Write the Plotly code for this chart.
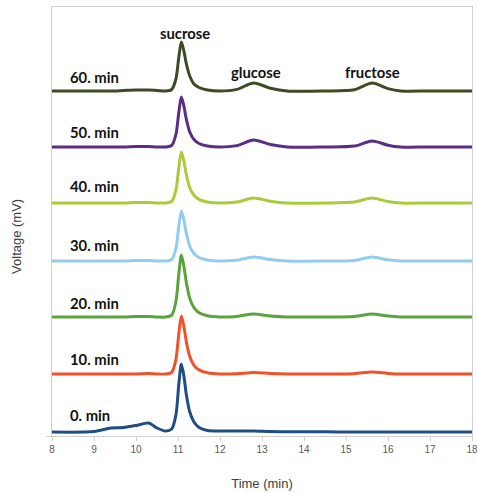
import plotly.graph_objects as go

# Retention time grid (min)
time_min = [8, 9, 9.4, 9.7, 10.0, 10.3, 10.5, 10.7, 10.85, 10.95, 11.02, 11.08, 11.14, 11.2,
            11.28, 11.38, 11.5, 11.7, 12.0, 12.4, 12.8, 13.2, 13.6, 14.5, 15.2, 15.62, 16.0,
            16.3, 17, 18]

# Detector signal for each sampling time (stacked traces, arbitrary mV units)
v_0min = [0, 0.5, 4, 4.5, 6.5, 9, 4, 1, 3, 17, 48, 68, 56, 37, 20, 10, 4.5, 1.5, 1, 1, 1,
          0.5, 0.3, 0.2, 0, 0, 0, 0, 0, 0]
v_10min = [58, 58, 58, 58, 58, 58.5, 58, 58, 59.7, 72.5, 98.6, 116, 105.6, 89.9, 75.4, 66.7,
           62.1, 59.2, 58, 58.3, 59.5, 58.5, 58, 58, 58.3, 60, 58.6, 58, 58, 58]
v_20min = [115, 115, 115, 115, 115.5, 115.5, 115, 115, 116.9, 130.5, 158.4, 177, 165.8, 149.1,
           133.6, 124.3, 119.3, 116.2, 115, 115.6, 118, 116, 115, 115, 115.5, 118, 115.9, 115,
           115, 115]
v_30min = [171, 171, 171, 171, 171.5, 171.5, 171, 171, 172.5, 183.5, 206, 221, 212, 198.5, 186,
           178.5, 174.5, 172, 171, 171.8, 175, 172.4, 171, 171, 171.6, 175, 172.2, 171, 171, 171]
v_40min = [229, 229, 229, 229, 229.5, 229.5, 229, 229, 230.5, 241.8, 264.7, 280, 270.8, 257,
           244.3, 236.7, 232.6, 230, 229, 230, 234, 230.8, 229, 229, 230, 234, 230.5, 229, 229, 229]
v_50min = [285, 285, 285, 285, 285.5, 285.5, 285, 285, 286.5, 297.5, 320, 335, 326, 312.5, 300,
           292.5, 288.5, 286, 285, 286.4, 292, 287.5, 285, 285, 285.9, 291, 286.8, 285, 285, 285]
v_60min = [341, 341, 341, 341.5, 342, 342, 341.5, 341, 342.5, 353, 375, 390, 381, 368, 356, 348,
           344.5, 342, 341, 342.6, 349, 343.8, 341, 341, 342.2, 349, 343.4, 341, 341, 341]

series_names = ["0. min", "10. min", "20. min", "30. min", "40. min", "50. min", "60. min"]
series_values = [v_0min, v_10min, v_20min, v_30min, v_40min, v_50min, v_60min]
series_colors = ["#1f4e85", "#f0532a", "#5ba33b", "#92cdf1", "#a9cc3b", "#5c2d86", "#3c4c22"]
label_y = [17, 73, 129, 187, 246, 300, 355]

peak_names = ["sucrose", "glucose", "fructose"]
peak_x = [11.17, 12.86, 15.64]
peak_y = [399, 360, 360]

x_ticks = [8, 9, 10, 11, 12, 13, 14, 15, 16, 17, 18]

fig = go.Figure()
for name, vals, col in zip(series_names, series_values, series_colors):
    fig.add_trace(go.Scatter(x=time_min, y=vals, mode="lines", name=name,
                             line=dict(color=col, width=3, shape="spline", smoothing=0.8),
                             showlegend=False, hoverinfo="skip"))

label_font = dict(family="Lato", size=14.8, color="#111111")
for name, ly in zip(series_names, label_y):
    fig.add_annotation(x=8.38, y=ly, text="<b>%s</b>" % name, showarrow=False,
                       xanchor="left", yanchor="middle", font=label_font)
for name, px, py in zip(peak_names, peak_x, peak_y):
    fig.add_annotation(x=px, y=py, text="<b>%s</b>" % name, showarrow=False,
                       xanchor="center", yanchor="middle", font=label_font)

fig.add_annotation(xref="paper", yref="paper", x=-35 / 420, y=0.464, text="Voltage (mV)",
                   textangle=-90, showarrow=False, xanchor="center", yanchor="middle",
                   font=dict(family="Liberation Sans", size=13, color="#404040"))

fig.update_layout(
    width=477, height=493,
    margin=dict(l=52, r=5, t=7, b=57, autoexpand=False),
    paper_bgcolor="white", plot_bgcolor="white",
    xaxis=dict(range=[8, 18], tickvals=x_ticks, ticktext=[str(t) for t in x_ticks],
               automargin=False,
               showgrid=False, zeroline=False, showline=True, linecolor="#d0d0d0",
               linewidth=1, mirror=True, ticks="outside", ticklen=4, tickcolor="#d0d0d0",
               ticklabeloverflow="allow",
               tickfont=dict(family="Liberation Sans", size=10, color="#595959"),
               title=dict(text="Time (min)", standoff=24,
                          font=dict(family="Liberation Sans", size=13, color="#404040"))),
    yaxis=dict(range=[-4, 425], tickvals=[-4], showticklabels=False, showgrid=False,
               automargin=False,
               zeroline=False, showline=True, linecolor="#d0d0d0", linewidth=1, mirror=True,
               ticks="outside", ticklen=5, tickcolor="#d0d0d0"),
)

fig.write_html("out.html", config={"displayModeBar": False},
               post_script="document.body.style.margin='0px';document.body.style.overflow='hidden';")
